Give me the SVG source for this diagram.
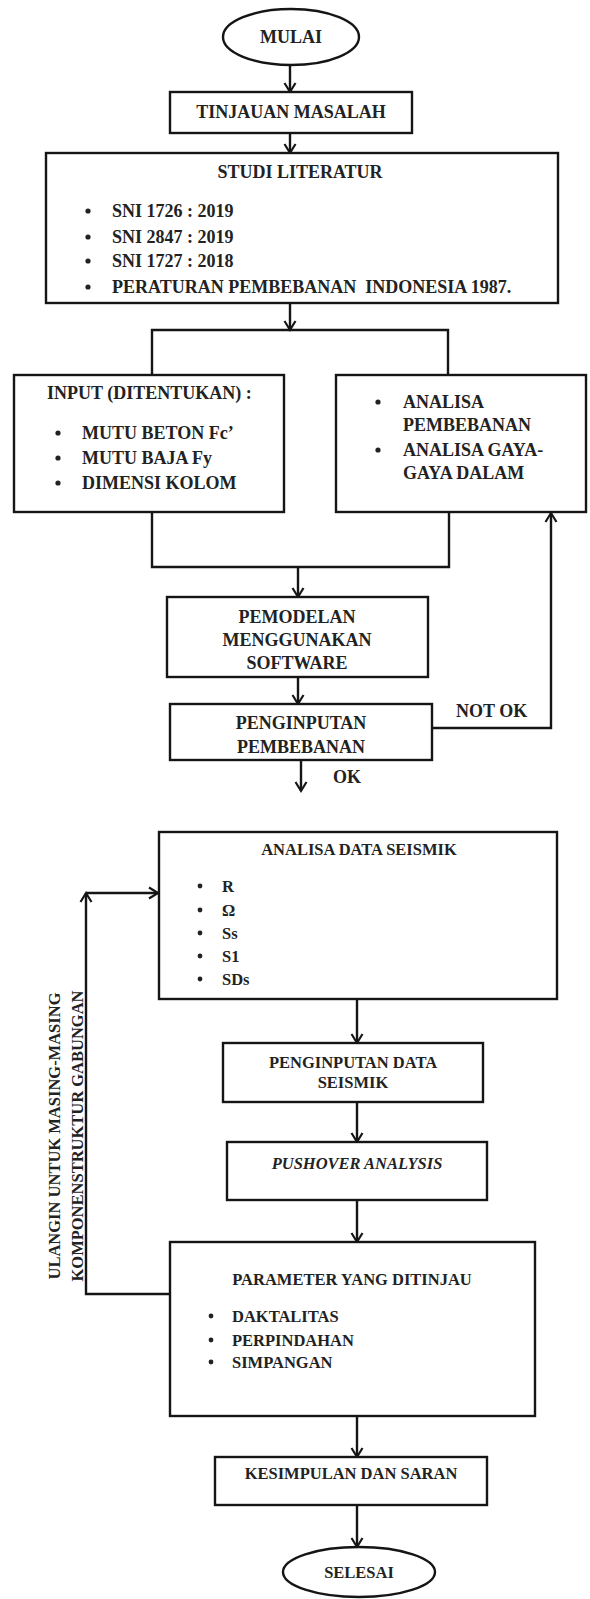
<svg xmlns="http://www.w3.org/2000/svg" width="590" height="1599" viewBox="0 0 590 1599">
<defs>
<marker id="arr" viewBox="-12 -8 14 16" refX="0" refY="0" markerWidth="14" markerHeight="16" markerUnits="userSpaceOnUse" orient="auto" overflow="visible">
<path d="M-9,-5.5 L0,0 L-9,5.5" fill="none" stroke="#151515" stroke-width="2.2" stroke-linejoin="miter"/>
</marker>
<style>
.box{fill:#fff;stroke:#151515;stroke-width:2.4}
.ln{fill:none;stroke:#151515;stroke-width:2.4}
.t{font-family:"Liberation Serif","Times New Roman",serif;font-weight:bold;fill:#222;font-size:18px}
.s{font-size:16.5px}
.c{text-anchor:middle}
.dot{fill:#222}
</style>
</defs>
<rect width="590" height="1599" fill="#fff"/>

<g id="connectors">
<line class="ln" x1="290" y1="65" x2="290" y2="92" marker-end="url(#arr)"/>
<line class="ln" x1="290" y1="133" x2="290" y2="153" marker-end="url(#arr)"/>
<line class="ln" x1="290" y1="303" x2="290" y2="330" marker-end="url(#arr)"/>
<polyline class="ln" points="152,375 152,330 448,330 448,375"/>
<polyline class="ln" points="152,512 152,567 449,567 449,512"/>
<line class="ln" x1="298" y1="567" x2="298" y2="597" marker-end="url(#arr)"/>
<line class="ln" x1="298" y1="677" x2="298" y2="704" marker-end="url(#arr)"/>
<polyline class="ln" points="432,728 551,728 551,513" marker-end="url(#arr)"/>
<line class="ln" x1="301" y1="760" x2="301" y2="791" marker-end="url(#arr)"/>
<line class="ln" x1="357" y1="999" x2="357" y2="1043" marker-end="url(#arr)"/>
<line class="ln" x1="357" y1="1102" x2="357" y2="1142" marker-end="url(#arr)"/>
<line class="ln" x1="357" y1="1200" x2="357" y2="1242" marker-end="url(#arr)"/>
<polyline class="ln" points="170,1294 86,1294 86,893" marker-end="url(#arr)"/>
<line class="ln" x1="86" y1="893" x2="158" y2="893" marker-end="url(#arr)"/>
<line class="ln" x1="357" y1="1416" x2="357" y2="1457" marker-end="url(#arr)"/>
<line class="ln" x1="357" y1="1505" x2="357" y2="1547" marker-end="url(#arr)"/>
<text class="t" x="456" y="717">NOT OK</text>
<text class="t" x="333" y="783">OK</text>
<text class="t s c" transform="translate(59.5,1136) rotate(-90)">ULANGIN UNTUK MASING-MASING</text>
<text class="t s c" transform="translate(83,1136) rotate(-90)">KOMPONENSTRUKTUR GABUNGAN</text>
</g>

<g id="mulai">
<ellipse class="box" cx="291" cy="37" rx="68" ry="28"/>
<text class="t c" x="291" y="43">MULAI</text>
</g>

<g id="tinjauan">
<rect class="box" x="170" y="92" width="242" height="41"/>
<text class="t c" x="291" y="118">TINJAUAN MASALAH</text>
</g>

<g id="studi">
<rect class="box" x="46" y="153" width="512" height="150"/>
<text class="t c" x="300" y="178">STUDI LITERATUR</text>
<circle class="dot" cx="88" cy="211" r="2.6"/>
<circle class="dot" cx="88" cy="237" r="2.6"/>
<circle class="dot" cx="88" cy="261" r="2.6"/>
<circle class="dot" cx="88" cy="287" r="2.6"/>
<text class="t" x="112" y="217">SNI 1726 : 2019</text>
<text class="t" x="112" y="243">SNI 2847 : 2019</text>
<text class="t" x="112" y="267">SNI 1727 : 2018</text>
<text class="t" x="112" y="293" xml:space="preserve">PERATURAN PEMBEBANAN  INDONESIA 1987.</text>
</g>

<g id="input">
<rect class="box" x="14" y="375" width="270" height="137"/>
<text class="t" x="47" y="399">INPUT (DITENTUKAN) :</text>
<circle class="dot" cx="58" cy="433" r="2.6"/>
<circle class="dot" cx="58" cy="458" r="2.6"/>
<circle class="dot" cx="58" cy="483" r="2.6"/>
<text class="t" x="82" y="439">MUTU BETON Fc’</text>
<text class="t" x="82" y="464">MUTU BAJA Fy</text>
<text class="t" x="82" y="489">DIMENSI KOLOM</text>
</g>

<g id="analisa">
<rect class="box" x="336" y="375" width="250" height="137"/>
<circle class="dot" cx="378" cy="402" r="2.6"/>
<circle class="dot" cx="378" cy="450" r="2.6"/>
<text class="t" x="403" y="408">ANALISA</text>
<text class="t" x="403" y="431">PEMBEBANAN</text>
<text class="t" x="403" y="456">ANALISA GAYA-</text>
<text class="t" x="403" y="479">GAYA DALAM</text>
</g>

<g id="pemodelan">
<rect class="box" x="167" y="597" width="261" height="80"/>
<text class="t c" x="297" y="623">PEMODELAN</text>
<text class="t c" x="297" y="646">MENGGUNAKAN</text>
<text class="t c" x="297" y="669">SOFTWARE</text>
</g>

<g id="penginputan">
<rect class="box" x="170" y="704" width="262" height="56"/>
<text class="t c" x="301" y="729">PENGINPUTAN</text>
<text class="t c" x="301" y="753">PEMBEBANAN</text>
</g>

<g id="seismik">
<rect class="box" x="159" y="832" width="398" height="167"/>
<text class="t s c" x="359" y="855">ANALISA DATA SEISMIK</text>
<circle class="dot" cx="200" cy="886" r="2.4"/>
<circle class="dot" cx="200" cy="910" r="2.4"/>
<circle class="dot" cx="200" cy="933" r="2.4"/>
<circle class="dot" cx="200" cy="956" r="2.4"/>
<circle class="dot" cx="200" cy="979" r="2.4"/>
<text class="t s" x="222" y="892">R</text>
<text class="t s" x="222" y="916">Ω</text>
<text class="t s" x="222" y="939">Ss</text>
<text class="t s" x="222" y="962">S1</text>
<text class="t s" x="222" y="985">SDs</text>
</g>

<g id="input-seismik">
<rect class="box" x="223" y="1043" width="260" height="59"/>
<text class="t s c" x="353" y="1068">PENGINPUTAN DATA</text>
<text class="t s c" x="353" y="1088">SEISMIK</text>
</g>

<g id="pushover">
<rect class="box" x="227" y="1142" width="260" height="58"/>
<text class="t s c" x="357" y="1169" font-style="italic">PUSHOVER ANALYSIS</text>
</g>

<g id="parameter">
<rect class="box" x="170" y="1242" width="365" height="174"/>
<text class="t s c" x="352" y="1285">PARAMETER YANG DITINJAU</text>
<circle class="dot" cx="211" cy="1316" r="2.4"/>
<circle class="dot" cx="211" cy="1340" r="2.4"/>
<circle class="dot" cx="211" cy="1362" r="2.4"/>
<text class="t s" x="232" y="1322">DAKTALITAS</text>
<text class="t s" x="232" y="1346">PERPINDAHAN</text>
<text class="t s" x="232" y="1368">SIMPANGAN</text>
</g>

<g id="kesimpulan">
<rect class="box" x="215" y="1457" width="272" height="48"/>
<text class="t s c" x="351" y="1479">KESIMPULAN DAN SARAN</text>
</g>

<g id="selesai">
<ellipse class="box" cx="359" cy="1572" rx="76" ry="25"/>
<text class="t s c" x="359" y="1578">SELESAI</text>
</g>
</svg>
